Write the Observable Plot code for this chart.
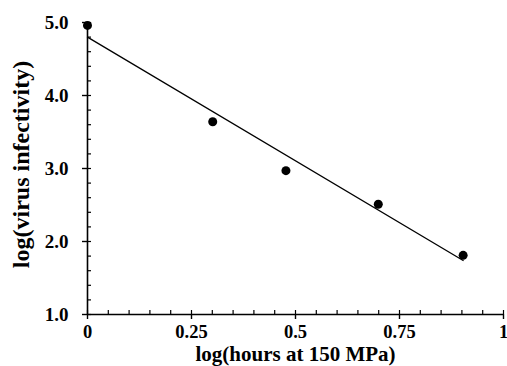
<!DOCTYPE html>
<html>
<head>
<meta charset="utf-8">
<script src="https://cdn.jsdelivr.net/npm/d3@7"></script>
<script src="https://cdn.jsdelivr.net/npm/@observablehq/plot@0.6"></script>
<style>
  html, body { margin: 0; padding: 0; background: #fff; }
  #chart svg, #chart svg text { font-family: "Liberation Serif", "DejaVu Serif", serif !important; font-weight: bold; }
</style>
</head>
<body>
<div id="chart"></div>
<script>
// log(hours at 150 MPa) and log(virus infectivity)
const logHours = [0, 0.301, 0.477, 0.699, 0.903];
const logInfectivity = [4.96, 3.64, 2.97, 2.51, 1.81];

// fitted regression line endpoints
const fitX = [0, 0.903];
const fitY = [4.80, 1.74];

const xTicks = [0, 0.25, 0.5, 0.75, 1];
const xTickLabels = ["0", "0.25", "0.5", "0.75", "1"];
const yTicks = [1, 2, 3, 4, 5];
const yTickLabels = ["1.0", "2.0", "3.0", "4.0", "5.0"];

const xTitle = "log(hours at 150 MPa)";
const yTitle = "log(virus infectivity)";

const points = logHours.map((x, i) => ({x, y: logInfectivity[i]}));
const fit = fitX.map((x, i) => ({x, y: fitY[i]}));
const xLab = new Map(xTicks.map((t, i) => [t, xTickLabels[i]]));
const yLab = new Map(yTicks.map((t, i) => [t, yTickLabels[i]]));

const font = "Liberation Serif, DejaVu Serif, serif";

const chart = Plot.plot({
  width: 507,
  height: 366,
  marginLeft: 87,
  marginRight: 4,
  marginTop: 22,
  marginBottom: 52,
  style: {fontFamily: font, fontWeight: "bold", color: "#000", background: "#fff", overflow: "visible"},
  x: {domain: [0, 1]},
  y: {domain: [1, 5]},
  marks: [
    // minor ticks pointing inward
    Plot.axisX({ticks: 20, tickSize: -4, tickFormat: () => "", label: null, strokeWidth: 1.2}),
    Plot.axisY({ticks: 20, tickSize: -4, tickFormat: () => "", label: null, strokeWidth: 1.2}),
    // major ticks pointing outward, with labels
    Plot.axisX(xTicks, {tickSize: 5, tickPadding: 5, lineAnchor: "top", tickFormat: d => xLab.get(d), label: null, fontSize: 18.5, fontFamily: font, strokeWidth: 1.4}),
    Plot.axisY(yTicks, {tickSize: 5, tickPadding: 14, tickFormat: d => yLab.get(d), label: null, fontSize: 19, fontFamily: font, strokeWidth: 1.4}),
    // axis lines
    Plot.ruleY([1], {x1: 0, x2: 1, strokeWidth: 1.6}),
    Plot.ruleX([0], {y1: 1, y2: 5, strokeWidth: 1.6}),
    // regression line
    Plot.line(fit, {x: "x", y: "y", stroke: "#000", strokeWidth: 1.3}),
    // data points
    Plot.dot(points, {x: "x", y: "y", r: 4.5, fill: "#000", stroke: "none"}),
    // axis titles
    Plot.text([xTitle], {frameAnchor: "bottom", textAnchor: "middle", lineAnchor: "top", dx: 0, dy: 32, fontSize: 21, fontFamily: font, fontWeight: "bold"}),
    Plot.text([yTitle], {frameAnchor: "left", textAnchor: "middle", lineAnchor: "top", rotate: -90, dx: -76, dy: -4, fontSize: 24, fontFamily: font, fontWeight: "bold"})
  ]
});
document.getElementById("chart").appendChild(chart);
</script>
</body>
</html>
